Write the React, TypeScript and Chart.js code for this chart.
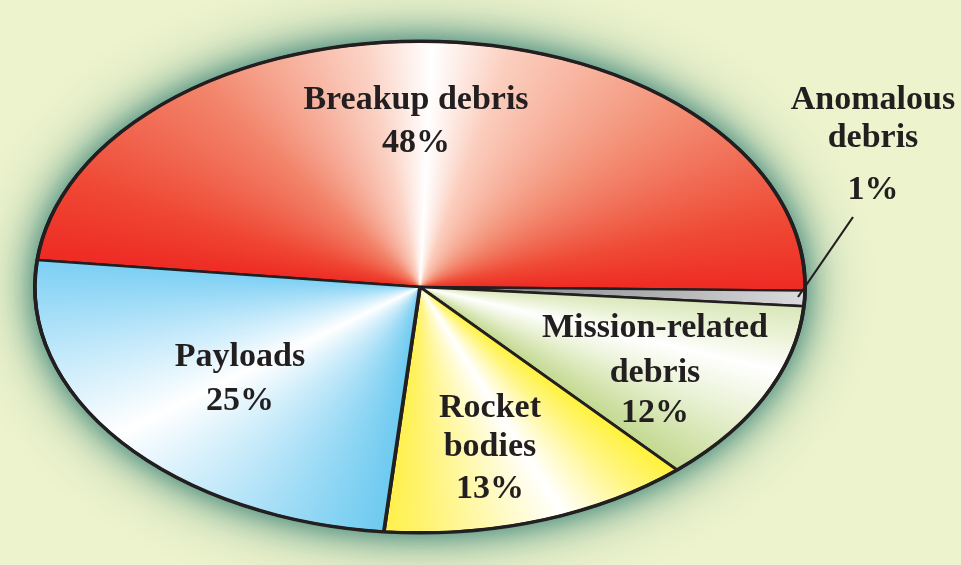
import React, { useEffect, useRef } from "react";
import { Chart, registerables } from "chart.js";

Chart.register(...registerables);

// ---- data ----
const categories = ["Breakup debris", "Anomalous debris", "Mission-related debris", "Rocket bodies", "Payloads"];
const shares = [48, 1, 12, 13, 25];
const labelNames = [["Breakup debris"], ["Anomalous", "debris"], ["Mission-related", "debris"], ["Rocket", "bodies"], ["Payloads"]];

// ---- layout / style ----
const W = 961;
const H = 565;
const ROTATION = 276.3; // degrees, chart.js convention (0 = top)
const SX = 387 / 247; // horizontal stretch -> ellipse
const BG = "#edf3cc";
const INK = "#231f20";
const FONT = "bold 34px 'Liberation Serif'";
// label anchors: center x and baselines for each text line (last = percent)
const labelX = [416, 873, 655, 490, 240];
const labelBaselines = [[109, 152], [109, 147, 199], [337, 382, 422], [417, 456, 498], [366, 410]];
const leader = [[853, 217], [798, 297]];

const sliceStops: ([number, string][] | null)[] = [
  [[0, "#ee2a24"], [0.1, "#ef4532"], [0.28, "#f2846a"], [0.43, "#fbd2c4"], [0.49, "#ffffff"], [0.56, "#fbcdbd"], [0.72, "#f39177"], [0.9, "#ef4a35"], [1, "#ee2a24"]],
  null,
  [[0, "#d9e7ba"], [0.18, "#ecf3d8"], [0.36, "#ffffff"], [0.62, "#eaf2d6"], [1, "#c3d990"]],
  [[0, "#fff23a"], [0.18, "#fff684"], [0.42, "#ffffff"], [0.66, "#fff9b3"], [1, "#fff04a"]],
  [[0, "#6dcaf0"], [0.24, "#b3e3f8"], [0.52, "#ffffff"], [0.76, "#c0e8fa"], [1, "#7ccff4"]],
];

function sliceAngles(i: number) {
  const total = shares.reduce((a, b) => a + b, 0);
  let before = 0;
  for (let k = 0; k < i; k++) before += shares[k];
  const start = ((ROTATION - 90) * Math.PI) / 180 + (before / total) * 2 * Math.PI;
  const span = (shares[i] / total) * 2 * Math.PI;
  return { start, span };
}

function sliceFill(c: any) {
  const chart = c.chart;
  const area = chart.chartArea;
  if (!area) return "#ccc";
  const cx = (area.left + area.right) / 2;
  const cy = (area.top + area.bottom) / 2;
  const i = c.dataIndex;
  const ctx = chart.ctx as CanvasRenderingContext2D;
  const stops = sliceStops[i];
  if (!stops) {
    const r = Math.min(area.width, area.height) / 2;
    const g = ctx.createRadialGradient(cx, cy, 0, cx, cy, r);
    g.addColorStop(0, "#7b7c7e");
    g.addColorStop(0.6, "#aeafb1");
    g.addColorStop(1, "#dcdcde");
    return g;
  }
  const { start, span } = sliceAngles(i);
  const g = (ctx as any).createConicGradient(start - 0.02, cx, cy);
  const full = 2 * Math.PI;
  const off = 0.02 / full;
  g.addColorStop(0, stops[0][1]);
  for (const [f, col] of stops) {
    const p = Math.min(1, off + (f * span) / full);
    g.addColorStop(p, col);
  }
  g.addColorStop(Math.min(1, off + (span + 0.02) / full), stops[stops.length - 1][1]);
  return g;
}

const ellipsePlugin = {
  id: "ellipsePie",
  beforeDraw(chart: any) {
    const ctx = chart.ctx as CanvasRenderingContext2D;
    const arc = chart.getDatasetMeta(0).data[0];
    ctx.save();
    ctx.fillStyle = BG;
    ctx.fillRect(0, 0, chart.width, chart.height);
    if (arc) {
      const r = arc.outerRadius;
      ctx.fillStyle = "#6fa597";
      ctx.shadowColor = "rgba(45,125,115,0.9)";
      ctx.shadowBlur = 60;
      ctx.beginPath();
      ctx.ellipse(arc.x, arc.y, r * SX, r, 0, 0, Math.PI * 2);
      ctx.fill();
      ctx.shadowBlur = 26;
      ctx.shadowColor = "rgba(60,130,118,0.8)";
      ctx.fill();
    }
    ctx.restore();
  },
  beforeDatasetsDraw(chart: any) {
    const ctx = chart.ctx as CanvasRenderingContext2D;
    const arc = chart.getDatasetMeta(0).data[0];
    ctx.save();
    if (arc) {
      ctx.translate(arc.x, arc.y);
      ctx.scale(SX, 1);
      ctx.translate(-arc.x, -arc.y);
    }
  },
  afterDatasetsDraw(chart: any) {
    const ctx = chart.ctx as CanvasRenderingContext2D;
    ctx.restore();
    const arc = chart.getDatasetMeta(0).data[0];
    ctx.save();
    if (arc) {
      const r = arc.outerRadius;
      ctx.strokeStyle = INK;
      ctx.lineWidth = 3.4;
      ctx.beginPath();
      ctx.ellipse(arc.x, arc.y, r * SX, r, 0, 0, Math.PI * 2);
      ctx.stroke();
    }
    // leader line for the small slice
    ctx.strokeStyle = INK;
    ctx.lineWidth = 2.2;
    ctx.beginPath();
    ctx.moveTo(leader[0][0], leader[0][1]);
    ctx.lineTo(leader[1][0], leader[1][1]);
    ctx.stroke();
    // labels
    ctx.fillStyle = INK;
    ctx.font = FONT;
    ctx.textAlign = "center";
    ctx.textBaseline = "alphabetic";
    shares.forEach((v, i) => {
      const lines = [...labelNames[i], `${v}%`];
      lines.forEach((t, j) => {
        ctx.fillText(t, labelX[i], labelBaselines[i][j]);
      });
    });
    ctx.restore();
  },
};

export default function App() {
  const ref = useRef<HTMLCanvasElement>(null);
  useEffect(() => {
    if (!ref.current) return;
    const chart = new Chart(ref.current, {
      type: "pie",
      data: {
        labels: categories,
        datasets: [
          {
            data: shares,
            backgroundColor: (c: any) => sliceFill(c),
            borderColor: INK,
            borderWidth: 2.4,
            clip: false as any,
          },
        ],
      },
      options: {
        responsive: false,
        animation: false,
        devicePixelRatio: 1,
        rotation: ROTATION,
        layout: { padding: { left: 173, right: 294, top: 40, bottom: 31 } },
        plugins: { legend: { display: false }, tooltip: { enabled: false } },
      },
      plugins: [ellipsePlugin],
    });
    return () => chart.destroy();
  }, []);
  return (
    <div style={{ position: "fixed", left: 0, top: 0, width: W, height: H }}>
      <canvas ref={ref} width={W} height={H} style={{ display: "block" }} />
    </div>
  );
}
